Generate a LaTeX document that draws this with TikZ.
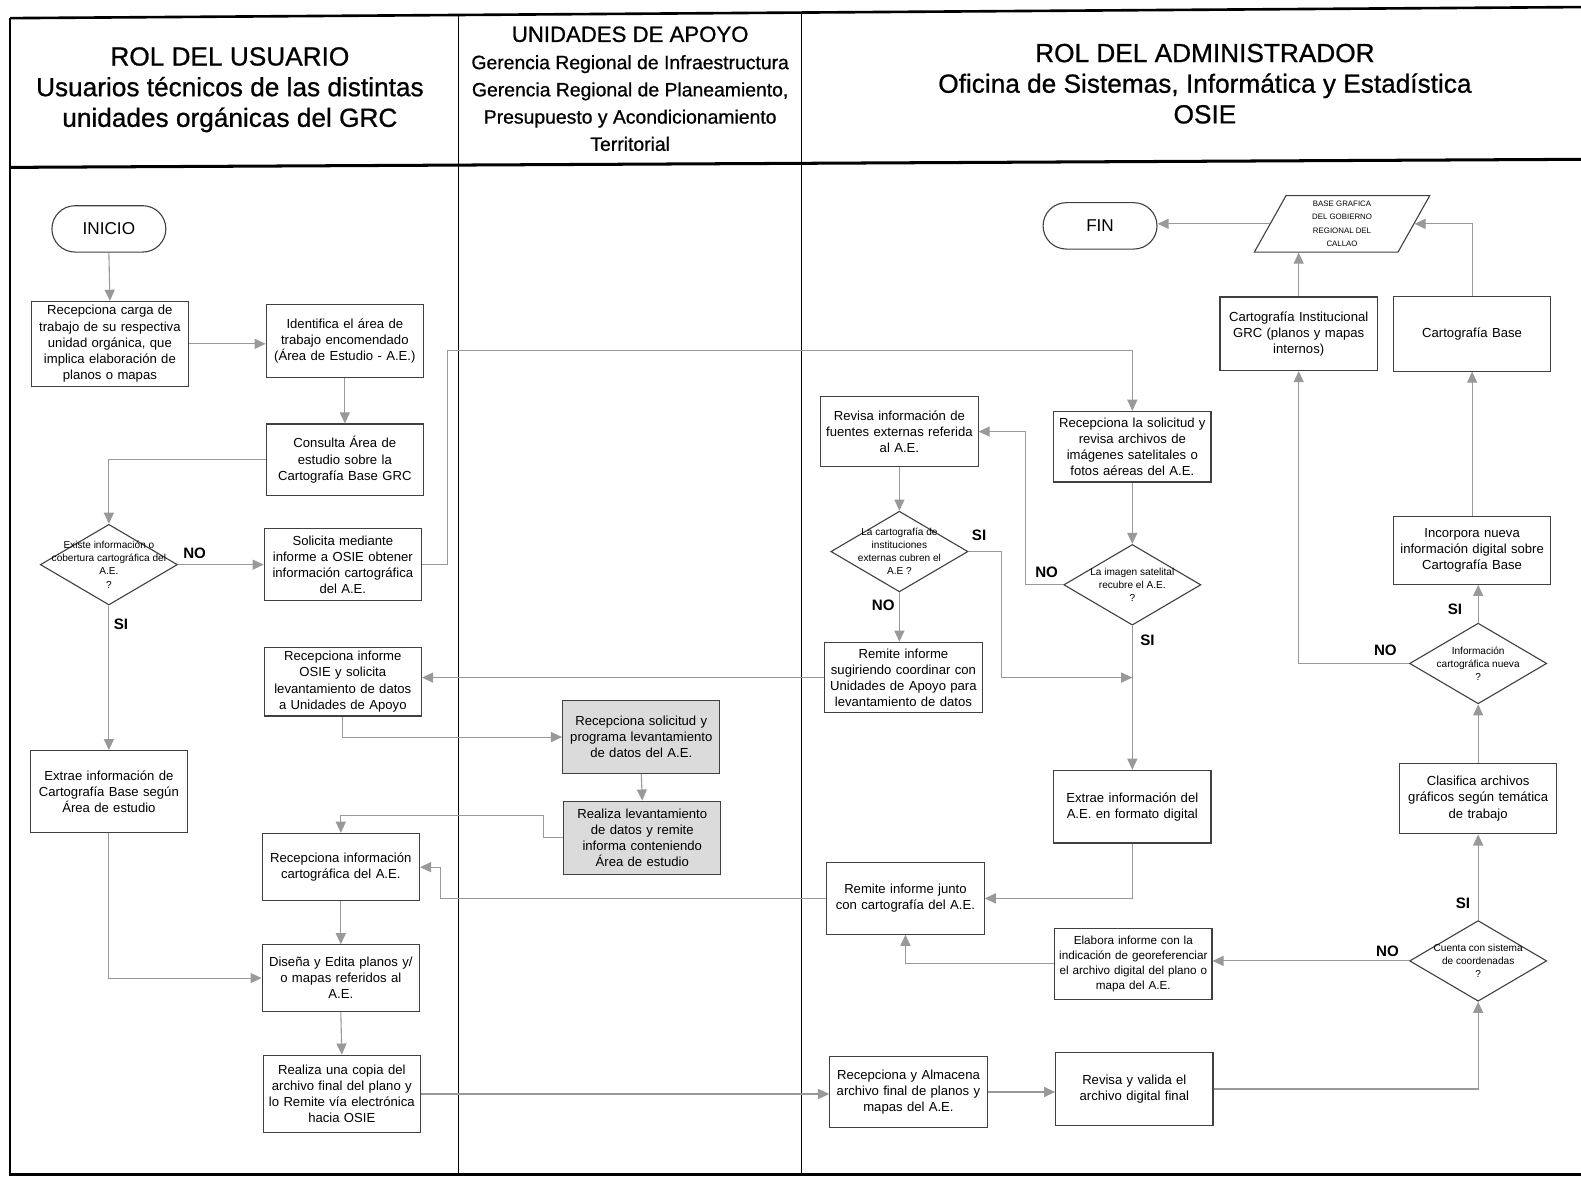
\documentclass[tikz,border=0pt]{standalone}
\usepackage{fontspec}
\setmainfont{Liberation Sans}
\newfontfamily\cabecera[FakeBold=0.8]{Liberation Sans}
\usetikzlibrary{arrows.meta,shapes.geometric}

\tikzset{
  caja/.style={draw=black!75, line width=0.55pt, fill=white, minimum width=78pt, text width=76pt,
    inner xsep=1pt, inner ysep=2pt, minimum height=36pt, align=center, font=\fontsize{6.5}{8}\selectfont},
  cajagris/.style={caja, fill=gray!28},
  rombo/.style={draw=black!75, line width=0.55pt, shape=diamond, minimum width=68pt, minimum height=40pt, inner sep=0pt},
  rtexto/.style={align=center, inner sep=0pt, font=\fontsize{5}{6.5}\selectfont},
  terminal/.style={draw=black!75, line width=0.55pt, rounded corners=11.5pt, minimum width=56.5pt, minimum height=23pt,
    font=\fontsize{8.5}{10}\selectfont},
  para/.style={draw=black!75, line width=0.55pt, trapezium, trapezium left angle=70, trapezium right angle=110,
    trapezium stretches=true, minimum width=87pt, minimum height=28pt, inner sep=0.5pt, align=center,
    font=\fontsize{3.9}{6.7}\selectfont},
  flecha/.style={draw=gray!80, line width=0.55pt, -{Triangle[length=5.5pt,width=5pt,fill=gray!80]}},
  rotulo/.style={font=\fontsize{7.5}{9}\selectfont\bfseries, inner sep=0pt},
  titulo/.style={align=center, inner sep=0pt, font=\cabecera\fontsize{13}{15.2}\selectfont},
}

\begin{document}
\begin{tikzpicture}[x=0.5pt,y=0.5pt,yscale=-1,xscale=1]
\useasboundingbox (0,0) rectangle (1568,1168);

%Frame
\draw [line width=1.3pt] (10,18) -- (1568,7) ;
\draw [line width=1.3pt] (10,18) -- (10,1165) -- (1568,1165) ;
\draw [line width=1.5pt] (10,166) -- (1568,158) ;
\draw [line width=0.7pt] (455,16) -- (455,1165) ;
\draw [line width=0.7pt] (795,13) -- (795,1165) ;

% Text Node
\node [titulo] (hdr1) at (228,89) {ROL DEL USUARIO\\Usuarios técnicos de las distintas\\unidades orgánicas del GRC};
% Text Node
\node [titulo, font=\cabecera\fontsize{9.6}{13.5}\selectfont] (hdr2) at (625,88) {{\fontsize{11}{13.5}\selectfont UNIDADES DE APOYO}\\Gerencia Regional de Infraestructura\\Gerencia Regional de Planeamiento,\\Presupuesto y Acondicionamiento\\Territorial};
% Text Node
\node [titulo] (hdr3) at (1195,83) {ROL DEL ADMINISTRADOR\\Oficina de Sistemas, Informática y Estadística\\OSIE};

%Rol del usuario
\node [terminal] (inicio) at (108,227) {INICIO};
\node [caja, minimum height=41.5pt] (b1) at (109,341) {Recepciona carga de\\trabajo de su respectiva\\unidad orgánica, que\\implica elaboración de\\planos o mapas};
\node [caja] (b2) at (342,338) {Identifica el área de\\trabajo encomendado\\(Área de Estudio - A.E.)};
\node [caja, minimum height=35.5pt] (b3) at (342,456) {Consulta Área de\\estudio sobre la\\Cartografía Base GRC};
\node [rombo, label={[rtexto]center:{Existe información o\\cobertura cartográfica del\\A.E.\\?}}] (d1) at (108,560) {};
\node [caja, minimum height=35.5pt] (b4) at (340,560) {Solicita mediante\\informe a OSIE obtener\\información cartográfica\\del A.E.};
\node [caja, minimum height=33.5pt] (b5) at (340,676) {Recepciona informe\\OSIE y solicita\\levantamiento de datos\\a Unidades de Apoyo};
\node [caja, minimum height=40.5pt] (b6) at (108,785) {Extrae información de\\Cartografía Base según\\Área de estudio};
\node [caja, minimum height=33.5pt] (b7) at (338,860) {Recepciona información\\cartográfica del A.E.};
\node [caja, minimum height=33pt] (b8) at (338,970) {Diseña y Edita planos y/\\o mapas referidos al\\A.E.};
\node [caja, minimum height=38.5pt] (b9) at (339,1085) {Realiza una copia del\\archivo final del plano y\\lo Remite vía electrónica\\hacia OSIE};

%Unidades de apoyo
\node [cajagris] (g1) at (636,731) {Recepciona solicitud y\\programa levantamiento\\de datos del A.E.};
\node [cajagris, minimum height=36.5pt] (g2) at (637,831) {Realiza levantamiento\\de datos y remite\\informa conteniendo\\Área de estudio};

%Rol del administrador
\node [terminal] (fin) at (1091,224) {FIN};
\node [para] (bg) at (1331,222) {BASE GRAFICA\\DEL GOBIERNO\\REGIONAL DEL\\CALLAO};
\node [caja, minimum height=36.5pt] (c1) at (1288,331) {Cartografía Institucional\\GRC (planos y mapas\\internos)};
\node [caja, minimum height=37pt] (c2) at (1460,331) {Cartografía Base};
\node [caja, minimum height=35pt] (r1) at (892,428) {Revisa información de\\fuentes externas referida\\al A.E.};
\node [caja, minimum height=35pt] (r2) at (1123,443) {Recepciona la solicitud y\\revisa archivos de\\imágenes satelitales o\\fotos aéreas del A.E.};
\node [rombo, label={[rtexto]center:{La cartografía de\\instituciones\\externas cubren el\\A.E ?}}] (d2) at (892,547) {};
\node [rombo, label={[rtexto]center:{La imagen satelital\\recubre el A.E.\\?}}] (d3) at (1123,580) {};
\node [caja, minimum height=35pt] (r3) at (896,672) {Remite informe\\sugiriendo coordinar con\\Unidades de Apoyo para\\levantamiento de datos};
\node [caja, minimum height=33.5pt] (c3) at (1460,546) {Incorpora nueva\\información digital sobre\\Cartografía Base};
\node [rombo, label={[rtexto]center:{Información\\cartográfica nueva\\?}}] (d4) at (1466,658) {};
\node [caja] (e1) at (1123,800) {Extrae información del\\A.E. en formato digital};
\node [caja, minimum height=35pt] (c4) at (1466,792) {Clasifica archivos\\gráficos según temática\\de trabajo};
\node [caja, minimum height=35.5pt] (r4) at (898,891) {Remite informe junto\\con cartografía del A.E.};
\node [rombo, label={[rtexto]center:{Cuenta con sistema\\de coordenadas\\?}}] (d5) at (1466,953) {};
\node [caja, minimum height=35.5pt, font=\fontsize{5.8}{7.4}\selectfont] (e2) at (1124,956) {Elabora informe con la\\indicación de georeferenciar\\el archivo digital del plano o\\mapa del A.E.};
\node [caja, minimum height=35.5pt] (f1) at (901,1083) {Recepciona y Almacena\\archivo final de planos y\\mapas del A.E.};
\node [caja] (f2) at (1125,1080) {Revisa y valida el\\archivo digital final};

%Connectors
\draw [flecha] (inicio.south) -- (b1.north);
\draw [flecha] (b1.east) -- (b2.west |- b1.east);
\draw [flecha] (b2.south) -- (b3.north);
\draw [flecha] (b3.west) -| (d1.north);
\draw [flecha] (d1.east) -- (b4.west);
\draw [flecha] (d1.south) -- (b6.north);
\draw [flecha] (b4.east) -| (444,348) -| (r2.north);
\draw [flecha] (r2.south) -- (d3.north);
\draw [flecha] (d3.west) -- ++(-37,0) |- (r1.east);
\draw [flecha] (r1.south) -- (d2.north);
\draw [flecha] (d2.east) -- ++(33,0) |- (d3.south |- r3.east);
\draw [flecha] (d2.south) -- (d2.south |- r3.north);
\draw [flecha] (d3.south) -- (e1.north);
\draw [flecha] (r3.west) -- (b5.east |- r3.west);
\draw [flecha] (b5.south) |- (g1.west);
\draw [flecha] (g1.south) -- (g2.north);
\draw [flecha] (g2.west) -- ++(-19,0) -- ++(0,-22) -| (b7.north);
\draw [flecha] (r4.west) -- ++(-383,0) |- (b7.east);
\draw [flecha] (e1.south) |- (r4.east);
\draw [flecha] (e2.west) -| (r4.south);
\draw [flecha] (d5.west) -- (d5.west -| e2.east);
\draw [flecha] (d5.north) -- (c4.south);
\draw [flecha] (c4.north) -- (d4.south);
\draw [flecha] (d4.north) -- (d4.north |- c3.south);
\draw [flecha] (c3.north) -- (c2.south);
\draw [flecha] (d4.west) -| (c1.south);
\draw [flecha] (c1.north) -- (c1.north |- bg.bottom side);
\draw [flecha] (c2.north) |- (bg.right side);
\draw [flecha] (bg.left side) -- (bg.left side -| fin.east);
\draw [flecha] (b6.south) |- (b8.west);
\draw [flecha] (b7.south) -- (b8.north);
\draw [flecha] (b8.south) -- (b9.north);
\draw [flecha] (b9.east) -- (b9.east -| f1.west);
\draw [flecha] (f1.east) -- (f1.east -| f2.west);
\draw [flecha] (f2.east) -| (d5.south);

% Text Node
\node [rotulo] (no1) at (193,549) {NO};
\node [rotulo] (si1) at (120,619) {SI};
\node [rotulo] (si2) at (971,531) {SI};
\node [rotulo] (no2) at (876,600) {NO};
\node [rotulo] (no3) at (1038,568) {NO};
\node [rotulo] (si3) at (1138,635) {SI};
\node [rotulo] (si4) at (1443,604) {SI};
\node [rotulo] (no4) at (1374,645) {NO};
\node [rotulo] (si5) at (1451,896) {SI};
\node [rotulo] (no5) at (1376,943) {NO};

\end{tikzpicture}
\end{document}
